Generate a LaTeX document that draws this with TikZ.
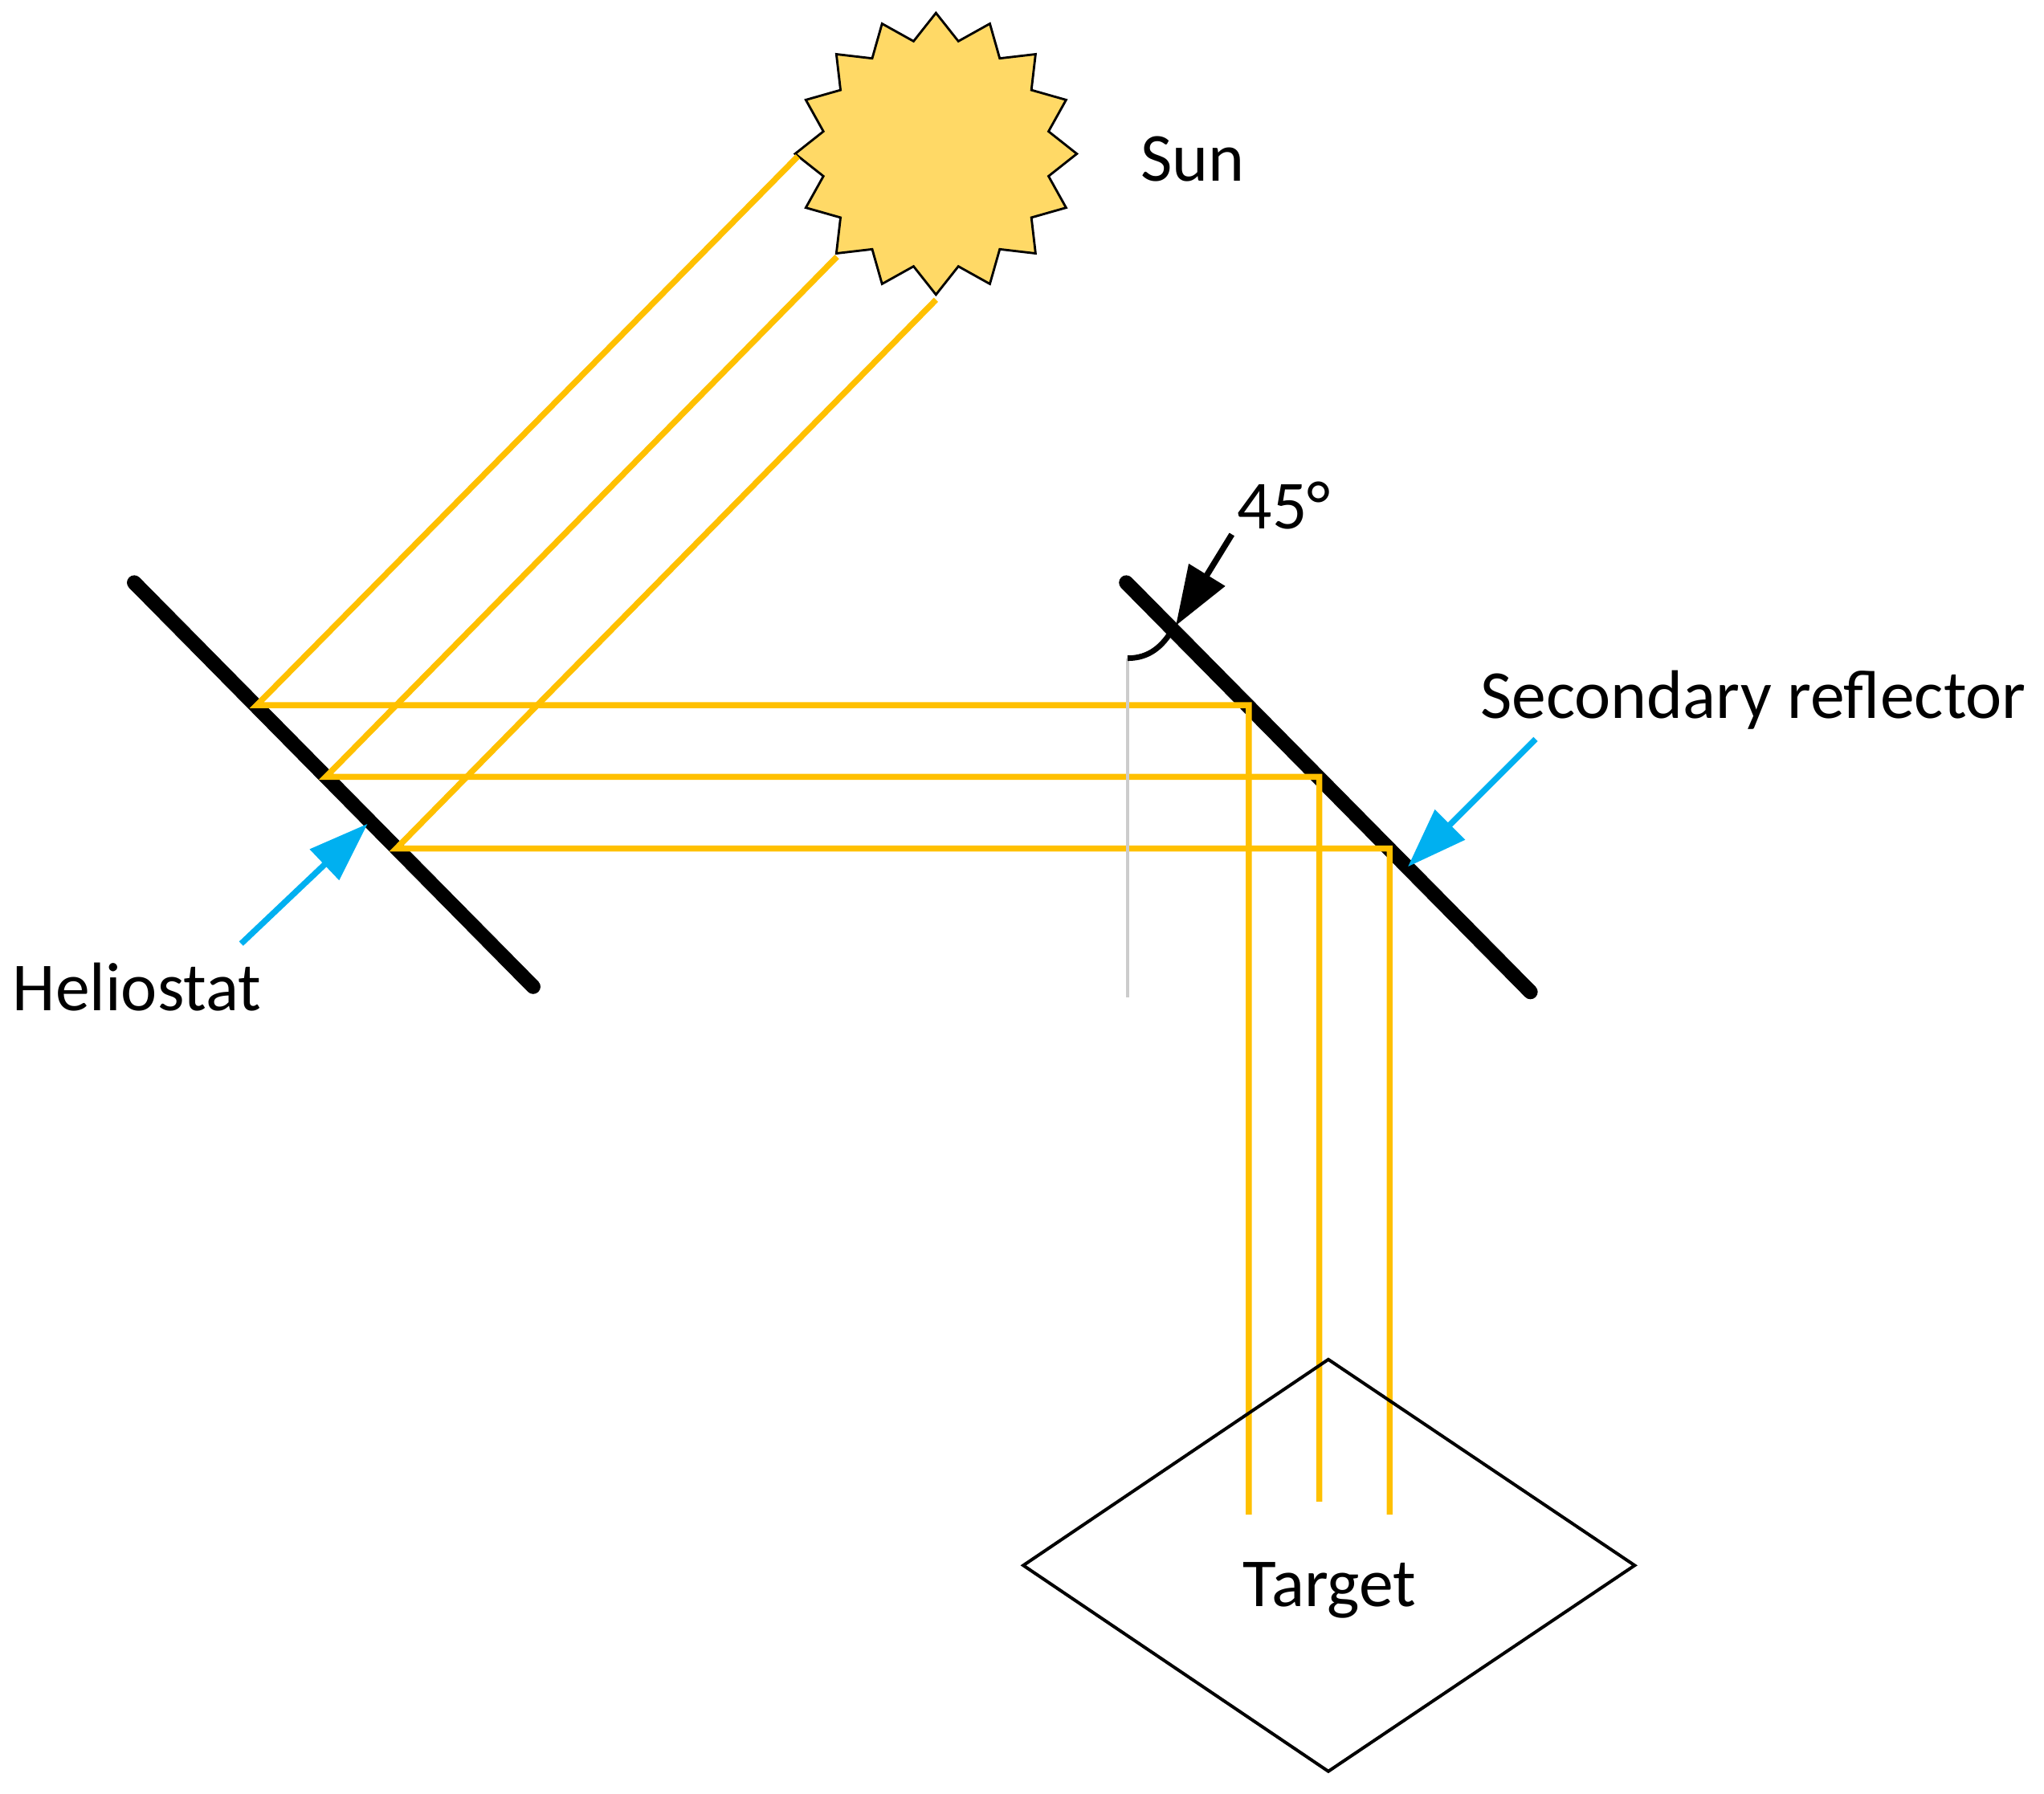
\documentclass[tikz,border=0pt]{standalone}
\usepackage{fontspec}
\setmainfont{Carlito}
\usetikzlibrary{arrows.meta}
\definecolor{ray}{HTML}{FFC000}
\definecolor{sunfill}{HTML}{FFD966}
\definecolor{cyanarr}{HTML}{00B0F0}
\begin{document}
\begin{tikzpicture}[x=0.01cm,y=-0.01cm,
  mirror/.style={line width=3.2pt,line cap=round},
  rayl/.style={ray,line width=1.3pt},
  lbl/.style={font=\fontsize{15}{18}\selectfont},
  carr/.style={cyanarr,line width=1.3pt,-{Triangle[length=13pt,width=9pt]}},
  karr/.style={black,line width=1.3pt,-{Triangle[length=13pt,width=9pt]}}]
\useasboundingbox (0,0) rectangle (1568,1376);
% sun
\begin{scope}[shift={(718,118)}]
\fill[sunfill,draw=black,line width=0.5pt] (0:1.08cm)
 \foreach \i in {1,...,31}{
   -- ({\i*11.25}:{ifthenelse(mod(\i,2)==0,1.08,0.88)*1cm})
 } -- cycle;
\end{scope}
\node[lbl] (sun) at (915,122) {Sun};
% mirrors
\coordinate (h1) at (103,447); \coordinate (h2) at (409,757);
\coordinate (s1) at (864,447); \coordinate (s2) at (1174,761);
\draw[mirror] (h1) -- (h2);
\draw[mirror] (s1) -- (s2);
% rays
\coordinate (a0) at (612,120); \coordinate (a1) at (197,541); \coordinate (a2) at (958,541); \coordinate (a3) at (958,1162);
\coordinate (b0) at (642,197); \coordinate (b1) at (250,596); \coordinate (b2) at (1012,596); \coordinate (b3) at (1012,1152);
\coordinate (c0) at (718,230); \coordinate (c1) at (304,651); \coordinate (c2) at (1066,651); \coordinate (c3) at (1066,1162);
\draw[rayl] (a0) -- (a1) -- (a2) -- (a3);
\draw[rayl] (b0) -- (b1) -- (b2) -- (b3);
\draw[rayl] (c0) -- (c1) -- (c2) -- (c3);
% gray normal
\coordinate (g1) at (865,505); \coordinate (g2) at (865,765);
\draw[gray!40,line width=0.6pt] (g1) -- (g2);
\draw[line width=1.2pt] (865,505) to[out=0,in=-120] (900,482);
% 45 arrow
\node[lbl] (ang) at (985,388) {45°};
\coordinate (k0) at (945,410); \coordinate (k1) at (902,480);
\draw[karr] (k0) -- (k1);
% labels with arrows
\node[lbl] (sec) at (1345,537) {Secondary reflector};
\coordinate (sa0) at (1178,567); \coordinate (sa1) at (1080,665);
\draw[carr] (sa0) -- (sa1);
\node[lbl] (hel) at (105,757) {Heliostat};
\coordinate (ha0) at (185,724); \coordinate (ha1) at (282,632);
\draw[carr] (ha0) -- (ha1);
% target
\draw[line width=0.7pt] (1019,1043) -- (1254,1201) -- (1019,1359) -- (785,1201) -- cycle;
\node[lbl] (tgt) at (1020,1220) {Target};
\end{tikzpicture}
\end{document}
